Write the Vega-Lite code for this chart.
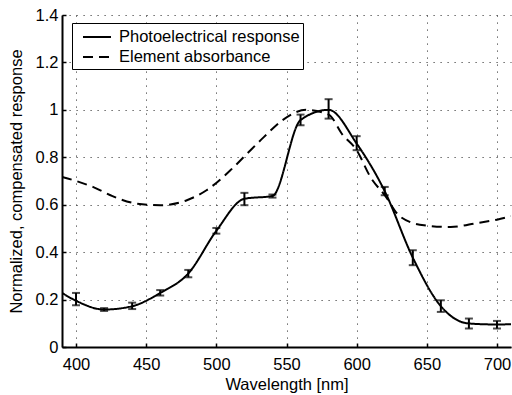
{
  "$schema": "https://vega.github.io/schema/vega-lite/v6.json",
  "width": 449,
  "height": 332,
  "autosize": {"type": "none"},
  "padding": {"left": 62, "top": 15, "right": 1, "bottom": 48},
  "background": "white",
  "config": {
    "view": {"stroke": null},
    "font": "Liberation Sans",
    "axis": {
      "domainColor": "black", "domainWidth": 2,
      "tickColor": "black", "tickWidth": 1.5, "tickSize": -4,
      "labelFont": "Liberation Sans", "labelFontSize": 16.5, "labelColor": "black",
      "titleFont": "Liberation Sans", "titleFontSize": 16.5, "titleFontWeight": "normal", "titleColor": "black",
      "gridColor": "#444", "gridDash": [1.2, 5.8], "gridWidth": 1
    }
  },
  "datasets": {
    "lines": [
      {"wl": 390, "v": 0.228, "series": "Photoelectrical response"},
      {"wl": 400, "v": 0.195, "series": "Photoelectrical response"},
      {"wl": 420, "v": 0.158, "series": "Photoelectrical response"},
      {"wl": 440, "v": 0.172, "series": "Photoelectrical response"},
      {"wl": 460, "v": 0.228, "series": "Photoelectrical response"},
      {"wl": 480, "v": 0.31, "series": "Photoelectrical response"},
      {"wl": 500, "v": 0.49, "series": "Photoelectrical response"},
      {"wl": 520, "v": 0.625, "series": "Photoelectrical response"},
      {"wl": 540, "v": 0.637, "series": "Photoelectrical response"},
      {"wl": 560, "v": 0.957, "series": "Photoelectrical response"},
      {"wl": 580, "v": 1.0, "series": "Photoelectrical response"},
      {"wl": 600, "v": 0.858, "series": "Photoelectrical response"},
      {"wl": 620, "v": 0.657, "series": "Photoelectrical response"},
      {"wl": 640, "v": 0.377, "series": "Photoelectrical response"},
      {"wl": 660, "v": 0.172, "series": "Photoelectrical response"},
      {"wl": 680, "v": 0.099, "series": "Photoelectrical response"},
      {"wl": 700, "v": 0.095, "series": "Photoelectrical response"},
      {"wl": 710, "v": 0.096, "series": "Photoelectrical response"},
      {"wl": 390, "v": 0.717, "series": "Element absorbance"},
      {"wl": 400, "v": 0.7, "series": "Element absorbance"},
      {"wl": 412, "v": 0.675, "series": "Element absorbance"},
      {"wl": 426, "v": 0.636, "series": "Element absorbance"},
      {"wl": 443, "v": 0.605, "series": "Element absorbance"},
      {"wl": 460, "v": 0.598, "series": "Element absorbance"},
      {"wl": 479, "v": 0.619, "series": "Element absorbance"},
      {"wl": 493, "v": 0.661, "series": "Element absorbance"},
      {"wl": 510, "v": 0.745, "series": "Element absorbance"},
      {"wl": 522, "v": 0.816, "series": "Element absorbance"},
      {"wl": 534, "v": 0.886, "series": "Element absorbance"},
      {"wl": 547, "v": 0.956, "series": "Element absorbance"},
      {"wl": 564, "v": 1.0, "series": "Element absorbance"},
      {"wl": 580, "v": 0.98, "series": "Element absorbance"},
      {"wl": 590, "v": 0.895, "series": "Element absorbance"},
      {"wl": 600, "v": 0.83, "series": "Element absorbance"},
      {"wl": 610, "v": 0.715, "series": "Element absorbance"},
      {"wl": 620, "v": 0.64, "series": "Element absorbance"},
      {"wl": 631, "v": 0.55, "series": "Element absorbance"},
      {"wl": 648, "v": 0.513, "series": "Element absorbance"},
      {"wl": 667, "v": 0.506, "series": "Element absorbance"},
      {"wl": 686, "v": 0.523, "series": "Element absorbance"},
      {"wl": 700, "v": 0.537, "series": "Element absorbance"},
      {"wl": 710, "v": 0.551, "series": "Element absorbance"}
    ],
    "errs": [
      {"wl": 400, "lo": 0.176, "hi": 0.228},
      {"wl": 420, "lo": 0.152, "hi": 0.164},
      {"wl": 440, "lo": 0.16, "hi": 0.187},
      {"wl": 460, "lo": 0.217, "hi": 0.24},
      {"wl": 480, "lo": 0.294, "hi": 0.325},
      {"wl": 500, "lo": 0.478, "hi": 0.502},
      {"wl": 520, "lo": 0.598, "hi": 0.65},
      {"wl": 540, "lo": 0.63, "hi": 0.643},
      {"wl": 560, "lo": 0.935, "hi": 0.98},
      {"wl": 580, "lo": 0.963, "hi": 1.045},
      {"wl": 600, "lo": 0.83, "hi": 0.889},
      {"wl": 620, "lo": 0.64, "hi": 0.675},
      {"wl": 640, "lo": 0.345, "hi": 0.408},
      {"wl": 660, "lo": 0.148, "hi": 0.197},
      {"wl": 680, "lo": 0.078, "hi": 0.12},
      {"wl": 700, "lo": 0.078, "hi": 0.11}
    ]
  },
  "layer": [
    {
      "data": {"name": "lines"},
      "mark": {"type": "line", "interpolate": "monotone", "strokeWidth": 2, "color": "black", "clip": true},
      "encoding": {
        "x": {"field": "wl", "type": "quantitative",
              "scale": {"domain": [390, 710], "nice": false, "zero": false},
              "axis": {"values": [400, 450, 500, 550, 600, 650, 700], "title": "Wavelength [nm]", "labelPadding": 13, "titlePadding": 4}},
        "y": {"field": "v", "type": "quantitative",
              "scale": {"domain": [0, 1.4], "nice": false},
              "title": "Normalized, compensated response",
              "axis": {"values": [0, 0.2, 0.4, 0.6, 0.8, 1, 1.2, 1.4], "format": "~g", "labelPadding": 8, "titlePadding": 11}},
        "strokeDash": {"field": "series", "type": "nominal",
              "scale": {"domain": ["Photoelectrical response", "Element absorbance"], "range": [[1, 0], [10, 6]]},
              "legend": {"title": null, "orient": "none", "legendX": 10, "legendY": 8,
                         "strokeColor": "black", "fillColor": "white", "padding": 3,
                         "symbolType": "M-0.3,0H2.5", "symbolSize": 400, "symbolStrokeWidth": 2, "symbolStrokeColor": "black",
                         "labelFont": "Liberation Sans", "labelFontSize": 16.5, "labelColor": "black",
                         "labelOffset": 22, "rowPadding": 0, "labelLimit": 300}}
      }
    },
    {
      "data": {"name": "errs"},
      "mark": {"type": "errorbar", "ticks": {"size": 8, "thickness": 2, "color": "black"}, "rule": {"strokeWidth": 2, "color": "black"}},
      "encoding": {
        "x": {"field": "wl", "type": "quantitative"},
        "y": {"field": "lo", "type": "quantitative", "title": "Normalized, compensated response"},
        "y2": {"field": "hi"}
      }
    }
  ]
}
